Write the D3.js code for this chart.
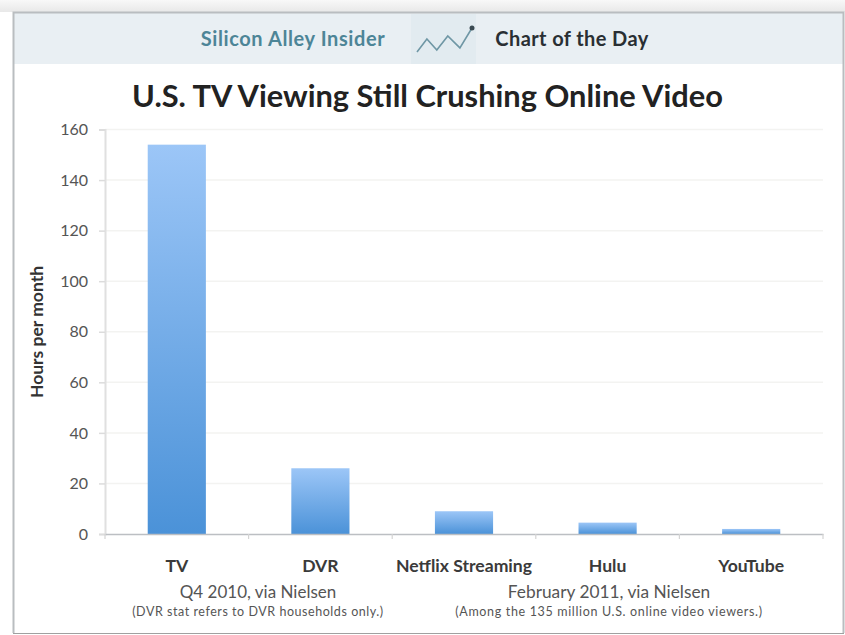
<!DOCTYPE html>
<html>
<head>
<meta charset="utf-8">
<script src="https://cdnjs.cloudflare.com/ajax/libs/d3/7.8.5/d3.min.js"></script>
<style>
  html, body { margin: 0; padding: 0; background: #fff; }
  svg { display: block; }
  text { font-family: Lato, "Open Sans", sans-serif; }
</style>
</head>
<body>
<svg id="chart" width="845" height="635"></svg>
<script>
const categories = ["TV", "DVR", "Netflix Streaming", "Hulu", "YouTube"];
const hours = [154, 26, 9, 4.5, 2];
const yTicks = [0, 20, 40, 60, 80, 100, 120, 140, 160];
const sparkPoints = [[0, 0], [0.9, 5.4], [1.8, 0.8], [2.8, 6.7], [3.9, 1.7], [5, 10]];

const svg = d3.select("#chart");
const plot = { left: 105, right: 823, top: 129.5, bottom: 534 };

const defs = svg.append("defs");
const barFill = defs.append("linearGradient")
  .attr("id", "barFill").attr("x1", 0).attr("y1", 0).attr("x2", 0).attr("y2", 1);
barFill.append("stop").attr("offset", "0%").attr("stop-color", "#9cc6f7");
barFill.append("stop").attr("offset", "100%").attr("stop-color", "#4b92d8");

const topShade = defs.append("linearGradient")
  .attr("id", "topShade").attr("x1", 0).attr("y1", 0).attr("x2", 0).attr("y2", 1);
topShade.append("stop").attr("offset", "0%").attr("stop-color", "#f8f8f8");
topShade.append("stop").attr("offset", "100%").attr("stop-color", "#e8e8e8");

// Page frame and header band
svg.append("rect").attr("x", 0).attr("y", 0).attr("width", 845).attr("height", 12)
  .attr("fill", "url(#topShade)");
svg.append("rect").attr("x", 14).attr("y", 13).attr("width", 829).attr("height", 51)
  .attr("fill", "#e9eff3");
svg.append("path").attr("d", "M13.5,633V12.5H843.5V633")
  .attr("fill", "none").attr("stroke", "#b9bdc0").attr("stroke-width", 2);
svg.append("path").attr("d", "M13,633.5H844")
  .attr("fill", "none").attr("stroke", "#a0a0a0").attr("stroke-width", 1.2);

// Masthead
const masthead = (x, color, label, spacing) => svg.append("text")
  .attr("x", x).attr("y", 46).attr("text-anchor", "middle")
  .attr("font-size", 20).attr("font-weight", 700)
  .attr("letter-spacing", spacing).attr("fill", color).text(label);
masthead(293, "#4d8597", "Silicon Alley Insider", 0.6);
svg.append("rect").attr("x", 411).attr("y", 14).attr("width", 65).attr("height", 50)
  .attr("fill", "#e2ebf0");
const sparkX = d3.scaleLinear().domain([0, 5]).range([417, 472]);
const sparkY = d3.scaleLinear().domain([0, 10]).range([52, 28]);
svg.append("path")
  .datum(sparkPoints)
  .attr("d", d3.line().x(d => sparkX(d[0])).y(d => sparkY(d[1])))
  .attr("fill", "none").attr("stroke", "#6f97a5").attr("stroke-width", 1.6);
svg.append("circle").attr("cx", sparkX(5)).attr("cy", sparkY(10)).attr("r", 2.5).attr("fill", "#3a4a52");
masthead(572, "#2a2f33", "Chart of the Day", 0.4);

// Title
svg.append("text").attr("x", 427.5).attr("y", 107).attr("text-anchor", "middle")
  .attr("font-size", 30.8).attr("font-weight", 700).attr("fill", "#222")
  .text("U.S. TV Viewing Still Crushing Online Video");

// Scales
const x = d3.scaleBand().domain(categories).range([plot.left, plot.right]).paddingInner(0.595).paddingOuter(0.2975);
const y = d3.scaleLinear().domain([0, 160]).range([plot.bottom, plot.top]);

// Gridlines
svg.append("g").selectAll("line").data(yTicks.filter(d => d > 0)).join("line")
  .attr("x1", plot.left).attr("x2", plot.right)
  .attr("y1", d => y(d)).attr("y2", d => y(d))
  .attr("stroke", "#f3f3f1").attr("stroke-width", 1.5);

// Bars
svg.append("g").selectAll("rect").data(hours).join("rect")
  .attr("x", (d, i) => x(categories[i]))
  .attr("y", d => y(d))
  .attr("width", x.bandwidth())
  .attr("height", d => y(0) - y(d))
  .attr("fill", "url(#barFill)");

// Y axis
const yAxis = svg.append("g").attr("transform", `translate(${plot.left},0)`)
  .call(d3.axisLeft(y).tickValues(yTicks).tickSize(6).tickPadding(11));
yAxis.select(".domain").attr("stroke", "#e0e0e0").attr("stroke-width", 2);
yAxis.selectAll(".tick line").attr("stroke", "#dcdcdc").attr("stroke-width", 1.5);
yAxis.selectAll("text").attr("font-size", 16).attr("fill", "#555")
  .style("font-family", "Lato, sans-serif");

// X axis
const xAxis = svg.append("g").attr("transform", `translate(0,${plot.bottom})`)
  .call(d3.axisBottom(x).tickSize(0).tickPadding(26));
xAxis.select(".domain").attr("stroke", "#bcbfc3").attr("stroke-width", 1.5);
xAxis.selectAll("text").attr("font-size", 17.6).attr("font-weight", 700).attr("fill", "#3a3a3a")
  .style("font-family", "Lato, sans-serif");
const bandStep = x.step();
svg.append("g").selectAll("line").data(d3.range(categories.length + 1)).join("line")
  .attr("x1", i => plot.left + i * bandStep)
  .attr("x2", i => plot.left + i * bandStep)
  .attr("y1", plot.bottom).attr("y2", plot.bottom + 5)
  .attr("stroke", "#d4d4d4").attr("stroke-width", 1.2);

// Y axis title
svg.append("text").attr("transform", "translate(43,332) rotate(-90)")
  .attr("text-anchor", "middle").attr("font-size", 17.5).attr("font-weight", 700).attr("fill", "#333")
  .text("Hours per month");

// Source notes
const note = (xPos, yPos, size, spacing, label) => svg.append("text")
  .attr("x", xPos).attr("y", yPos).attr("text-anchor", "middle")
  .attr("font-size", size).attr("letter-spacing", spacing).attr("fill", "#555").text(label);
note(258, 598, 17, 0, "Q4 2010, via Nielsen");
note(258, 616, 12.5, 0.55, "(DVR stat refers to DVR households only.)");
note(609, 598, 17.3, 0, "February 2011, via Nielsen");
note(609, 616, 12.5, 0.66, "(Among the 135 million U.S. online video viewers.)");
</script>
</body>
</html>
